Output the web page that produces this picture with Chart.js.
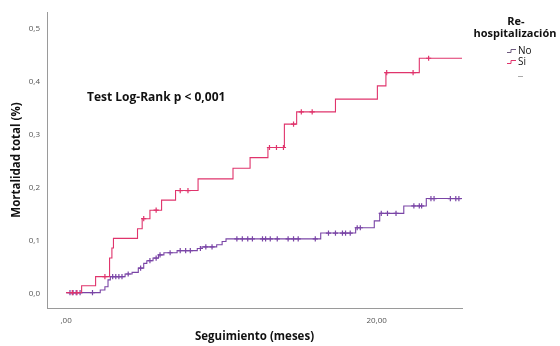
<!DOCTYPE html>
<html>
<head>
<meta charset="utf-8">
<script src="https://cdn.jsdelivr.net/npm/chart.js@4/dist/chart.umd.min.js"></script>
<style>
  html, body { margin: 0; padding: 0; background: #ffffff; }
  #wrap { width: 560px; height: 346px; position: relative; }
</style>
</head>
<body>
<div id="wrap"><canvas id="c" width="560" height="346"></canvas></div>
<script>
// ---- Data ----
const seriesNames = ["No", "Si"];
const legendTitle = ["Re-", "hospitalización"];
const annotationText = "Test Log-Rank p < 0,001";
const xTitle = "Seguimiento (meses)";
const yTitle = "Mortalidad total (%)";

const xTickValues = [0, 20];
const xTickLabels = [",00", "20,00"];
const yTickValues = [0, 0.1, 0.2, 0.3, 0.4, 0.5];
const yTickLabels = ["0,0", "0,1", "0,2", "0,3", "0,4", "0,5"];

// Re-hospitalización = Si (event step times & cumulative mortality)
const siTimes  = [0, 1.0, 1.9, 2.8, 2.95, 3.05, 4.6, 4.9, 5.4, 6.15, 7.05, 8.5, 10.75, 11.85, 13.0, 14.06, 14.85, 17.35, 20.05, 20.6, 22.75, 25.5];
const siValues = [0.003, 0.016, 0.033, 0.068, 0.087, 0.105, 0.123, 0.142, 0.158, 0.177, 0.195, 0.217, 0.237, 0.257, 0.276, 0.320, 0.343, 0.367, 0.392, 0.417, 0.444, 0.444];
const siCensored = [0.4, 0.7, 2.5, 5.0, 5.8, 7.35, 7.85, 13.1, 13.55, 14.0, 14.65, 15.15, 15.85, 20.65, 22.35, 23.35];

// Re-hospitalización = No
const noTimes  = [0, 2.2, 2.5, 2.7, 2.85, 3.8, 4.25, 4.65, 5.0, 5.2, 5.6, 5.95, 6.3, 7.15, 8.45, 8.75, 9.7, 10.05, 10.3, 16.4, 18.65, 19.85, 20.2, 21.75, 23.2, 25.5];
const noValues = [0.003, 0.008, 0.014, 0.027, 0.033, 0.038, 0.041, 0.049, 0.058, 0.063, 0.068, 0.074, 0.078, 0.082, 0.086, 0.089, 0.093, 0.099, 0.104, 0.115, 0.125, 0.138, 0.152, 0.166, 0.180, 0.180];
const noCensored = [0.25, 0.45, 0.65, 0.9, 1.7, 3.0, 3.2, 3.4, 3.6, 4.0, 4.8, 5.4, 5.8, 6.05, 6.7, 7.35, 7.7, 8.0, 8.65, 9.0, 9.4, 11.0, 11.35, 11.7, 12.0, 12.65, 12.85, 13.15, 13.6, 14.3, 14.65, 14.95, 16.05, 16.9, 17.35, 17.8, 18.0, 18.3, 18.75, 18.95, 20.3, 20.7, 21.25, 22.4, 22.75, 22.9, 23.5, 23.7, 24.75, 25.1, 25.3];

// ---- Styles ----
const COLOR_NO = "#7a45a6";
const COLOR_SI = "#e0346c";
const FONT = "'Open Sans', 'DejaVu Sans', sans-serif";

function stepValue(times, values, t) {
  let v = values[0];
  for (let i = 0; i < times.length; i++) { if (times[i] <= t) v = values[i]; }
  return v;
}
function toXY(times, values) { return times.map((t, i) => ({ x: t, y: values[i] })); }
function censorXY(cens, times, values) { return cens.map(t => ({ x: t, y: stepValue(times, values, t) })); }

const overlay = {
  id: 'overlay',
  afterDraw(chart) {
    const ctx = chart.ctx;
    ctx.save();
    // annotation
    ctx.fillStyle = '#111';
    ctx.font = "bold 12px " + FONT;
    ctx.textAlign = 'left';
    ctx.textBaseline = 'middle';
    ctx.fillText(annotationText, 87, 98);
    // legend title
    ctx.font = "bold 11px " + FONT;
    ctx.textAlign = 'center';
    ctx.fillText(legendTitle[0], 516, 22);
    ctx.fillText(legendTitle[1], 515, 34);
    // legend items
    ctx.font = "10px " + FONT;
    ctx.textAlign = 'left';
    const items = [{ name: seriesNames[0], color: '#6d5a7e', y: 50 }, { name: seriesNames[1], color: COLOR_SI, y: 61 }];
    items.forEach(it => {
      ctx.strokeStyle = it.color;
      ctx.lineWidth = 1;
      ctx.beginPath();
      ctx.moveTo(507, it.y + 2.5);
      ctx.lineTo(511, it.y + 2.5);
      ctx.lineTo(511, it.y - 0.5);
      ctx.lineTo(516, it.y - 0.5);
      ctx.stroke();
      ctx.fillStyle = '#111';
      ctx.fillText(it.name, 518, it.y + 1);
    });
    ctx.strokeStyle = '#aaa';
    ctx.beginPath();
    ctx.moveTo(518, 76.5);
    ctx.lineTo(523, 76.5);
    ctx.stroke();
    ctx.restore();
  }
};

new Chart(document.getElementById('c'), {
  type: 'line',
  data: {
    datasets: [
      { label: seriesNames[0], data: toXY(noTimes, noValues), borderColor: COLOR_NO, borderWidth: 1.1, stepped: 'before', pointRadius: 0, fill: false, order: 2 },
      { label: seriesNames[1], data: toXY(siTimes, siValues), borderColor: COLOR_SI, borderWidth: 1.1, stepped: 'before', pointRadius: 0, fill: false, order: 1 },
      { type: 'scatter', label: seriesNames[0] + ' censurado', data: censorXY(noCensored, noTimes, noValues), pointStyle: 'cross', pointRadius: 2.6, borderColor: COLOR_NO, borderWidth: 1.2, showLine: false, order: 2 },
      { type: 'scatter', label: seriesNames[1] + ' censurado', data: censorXY(siCensored, siTimes, siValues), pointStyle: 'cross', pointRadius: 2.6, borderColor: COLOR_SI, borderWidth: 1.2, showLine: false, order: 1 }
    ]
  },
  options: {
    responsive: false,
    animation: false,
    layout: { padding: { top: 12, right: 98, left: 0, bottom: 0 } },
    plugins: { legend: { display: false }, tooltip: { enabled: false } },
    scales: {
      x: {
        type: 'linear', min: -1.23, max: 25.5,
        afterBuildTicks: s => { s.ticks = xTickValues.map(v => ({ value: v })); },
        afterFit: s => { s.height = 38; },
        ticks: { callback: (v) => xTickLabels[xTickValues.indexOf(v)], font: { size: 8, family: FONT }, color: '#555', padding: 8, maxRotation: 0, autoSkip: false },
        grid: { display: false, drawTicks: false },
        border: { display: true, color: '#9a9a9a', width: 1 },
        title: { display: true, text: xTitle, font: { size: 11.5, weight: 'bold', family: FONT }, color: '#111', padding: { top: 0, bottom: 2 } }
      },
      y: {
        type: 'linear', min: -0.026, max: 0.531,
        afterBuildTicks: s => { s.ticks = yTickValues.map(v => ({ value: v })); },
        afterFit: s => { s.width = 47; },
        ticks: { callback: (v) => yTickLabels[yTickValues.indexOf(v)], font: { size: 8, family: FONT }, color: '#555', padding: 7 },
        grid: { display: false, drawTicks: false },
        border: { display: true, color: '#9a9a9a', width: 1 },
        title: { display: true, text: yTitle, font: { size: 11.5, weight: 'bold', family: FONT }, color: '#111', padding: { top: 10, bottom: 0 } }
      }
    }
  },
  plugins: [overlay]
});
</script>
</body>
</html>
